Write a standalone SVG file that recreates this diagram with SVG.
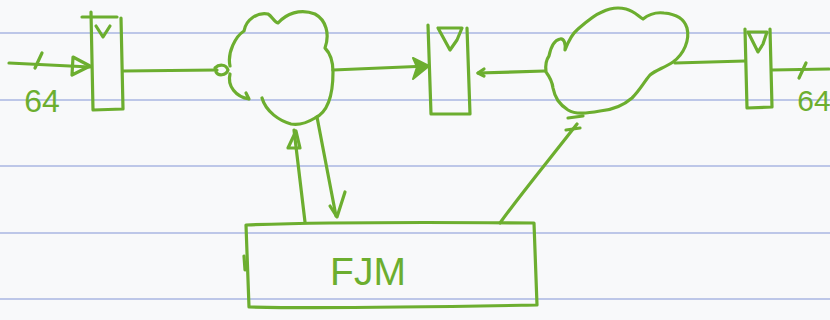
<svg xmlns="http://www.w3.org/2000/svg" width="830" height="320" viewBox="0 0 830 320">
<defs>
<style>
.rule{stroke:#aab6e2;stroke-width:1.5}
.ink{fill:none;stroke:#6cae2f;stroke-width:3.2;stroke-linecap:round;stroke-linejoin:round}
.head{fill:#6cae2f;stroke:#6cae2f;stroke-width:2;stroke-linejoin:round}
.lbl{font-family:"Liberation Sans",Arial,sans-serif;fill:#6cae2f}
</style>
</defs>
<rect width="830" height="320" fill="#f8f9fa"/>
<g id="paper-rules">
<line class="rule" x1="0" y1="33" x2="830" y2="33"/>
<line class="rule" x1="0" y1="100" x2="830" y2="100"/>
<line class="rule" x1="0" y1="166" x2="830" y2="166"/>
<line class="rule" x1="0" y1="233" x2="830" y2="233"/>
<line class="rule" x1="0" y1="299" x2="830" y2="299"/>
</g>
<g id="connectors">
<path class="ink" d="M9,63 L90,67"/>
<path class="ink" d="M73,57 L90,66 L72,75 Z"/>
<path class="ink" d="M35,68 L42,53"/>
<path class="ink" d="M123,71 L217,70"/>
<path class="ink" d="M215,68 C219,64 226,64 228,70 C226,76 218,76 216,72"/>
<path class="ink" d="M333,70 L428,66"/>
<path class="head" d="M413,58 L429,66 L413,79 L417,67 Z"/>
<path class="ink" d="M545,71 L478,73"/>
<path class="ink" d="M484,69 L478,73 L484,76"/>
<path class="ink" d="M675,63 L745,61"/>
<path class="ink" d="M772,70 L829,69"/>
<path class="ink" d="M799,78 L806,63"/>
<path class="ink" d="M305,222 L294,130"/>
<path class="ink" d="M288,148 L296,131 L300,148 Z"/>
<path class="ink" d="M317,117 L336,216"/>
<path class="ink" d="M330,206 L337,217 L345,192"/>
<path class="ink" d="M500,223 C520,195 545,165 577,124"/>
<path class="ink" d="M568,118 L583,116 M566,130 L580,128"/>
</g>
<g id="reg1">
<path class="ink" d="M91,12 L93,110 L123,109 L121,18 M82,17 L117,17"/>
<path class="ink" d="M96,26 L103,37 L110,26"/>
</g>
<g id="cloud1">
<path class="ink" d="M230,66 C227,52 236,36 244,31 C246,19 258,12 268,14 C272,16 274,22 278,23 C286,14 300,8 315,14 C326,20 330,34 325,48 C330,53 333,60 333,72 C333,95 328,112 315,118 C305,124 296,125 291,124 C280,121 266,112 262,98"/>
<path class="ink" d="M230,74 C227,86 236,97 249,99 M246,93 L249,99"/>
</g>
<g id="reg2">
<path class="ink" d="M428,25 L431,114 L470,114 L467,28"/>
<path class="ink" d="M438,28 L462,28 L457,40 L450,50 Z"/>
</g>
<g id="cloud2">
<path class="ink" d="M546,72 C545,64 546,60 549,56 C551,46 555,40 560,39 C564,38 566,44 565,50 C568,42 572,34 578,29 C586,22 594,15 602,12 C610,8 618,7 626,9 C634,11 638,16 643,19 C648,15 656,12 664,13 C676,14 684,18 687,28 C690,40 684,54 673,62 C664,68 656,70 650,75 C644,82 640,90 632,98 C624,105 612,110 600,111 C588,113 576,115 568,110 C559,104 555,98 553,88 C552,80 549,76 546,72"/>
</g>
<g id="reg3">
<path class="ink" d="M745,29 L747,108 L772,107 L770,29"/>
<path class="ink" d="M748,32 L767,32 L763,44 L758,52 Z"/>
</g>
<g id="fjm">
<path class="ink" d="M246,225 C300,223 420,222 534,223 L537,305 C480,306 330,309 249,307 Z"/>
<path class="ink" d="M244,256 L245,270"/>
<text class="lbl" x="368" y="285" font-size="39" text-anchor="middle">FJM</text>
</g>
<g id="labels">
<text class="lbl" x="42" y="112" font-size="32" text-anchor="middle">64</text>
<text class="lbl" x="814" y="111" font-size="30" text-anchor="middle">64</text>
</g>
</svg>
